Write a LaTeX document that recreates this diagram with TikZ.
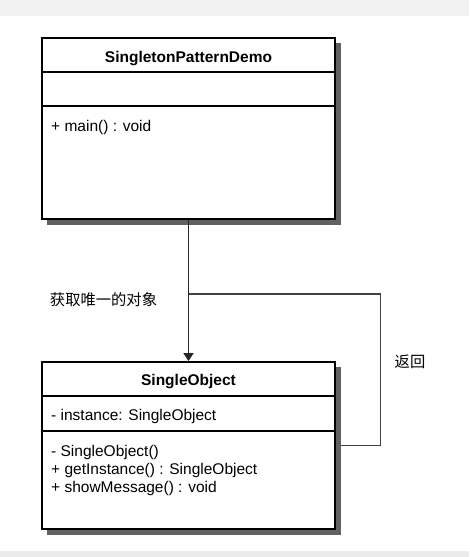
\documentclass[tikz,border=0pt]{standalone}
\usepackage{fontspec}
\setmainfont{Liberation Sans}
\newfontfamily\cjk{Noto Sans CJK SC}
\usetikzlibrary{arrows.meta,backgrounds,positioning,calc}

\tikzset{
	classbox/.style	= {draw=black, line width=1.8pt, fill=white, minimum width=293pt, inner sep=0pt},
	shadowbox/.style	= {fill=black!62},
	compline/.style	= {draw=black, line width=1.5pt},
	member/.style	= {anchor=base west, inner sep=0pt, font=\fontsize{15.5}{18}\selectfont},
	classname/.style	= {anchor=base, inner sep=0pt, font=\fontsize{15.5}{18}\selectfont\bfseries},
	note/.style	= {inner sep=0pt, font=\fontsize{15.3}{18}\selectfont\cjk},
}

\begin{document}
\begin{tikzpicture}
[
	x	= 1pt,	% one unit is one pixel of the reference
	y	= -1pt,	% y runs downwards, as in the reference
]

\useasboundingbox (0,0) rectangle (469,557);

% the two classes
\node [classbox, minimum height=181pt] (demo) at (188.5,128.5) {};
\node [classbox, minimum height=167pt] (single) at (188.5,445.5) {};

% page, grey bands and shadows
\begin{scope}[on background layer]
	\fill [white] (0,0) rectangle (469,557);
	\fill [black!5] (0,0) rectangle (469,16);
	\fill [black!8] (0,551) rectangle (469,557);
	\fill [shadowbox] ($(demo.north west)+(6,6)$) rectangle ($(demo.south east)+(5,5)$);
	\fill [shadowbox] ($(single.north west)+(6,6)$) rectangle ($(single.south east)+(5,5)$);
\end{scope}

\draw [compline] ([yshift=-35pt]demo.north west) -- ([yshift=-35pt]demo.north east);
\draw [compline] ([yshift=-69pt]demo.north west) -- ([yshift=-69pt]demo.north east);
\draw [compline] ([yshift=-35pt]single.north west) -- ([yshift=-35pt]single.north east);
\draw [compline] ([yshift=-70pt]single.north west) -- ([yshift=-70pt]single.north east);

\node [classname] (demoname) at (188.5,62) {SingletonPatternDemo};
\node [member] (demomain) at (51,131) {+ main() : void};

\node [classname] (singlename) at (188.5,385) {SingleObject};
\node [member] (singleinst) at (51,420) {- instance: SingleObject};
\node [member] (singlector) at (51,456) {- SingleObject()};
\node [member] (singleget) at (51,474) {+ getInstance() : SingleObject};
\node [member] (singleshow) at (51,492) {+ showMessage() : void};

% connectors
\draw [-{Triangle[width=10pt,length=8pt]}, color=black!85, line width=1.6pt] (demo.south) -- (single.north);
\coordinate (retstart) at (demo.south |- 0,294);
\draw [-, color=black!75, line width=1.2pt] (retstart) -- ++(192,0) |- ($(single.east)+(5,0)$);

\node [note] (getlabel) at (103.5,300) {获取唯一的对象};
\node [note] (retlabel) at (410,362) {返回};

\end{tikzpicture}
\end{document}
